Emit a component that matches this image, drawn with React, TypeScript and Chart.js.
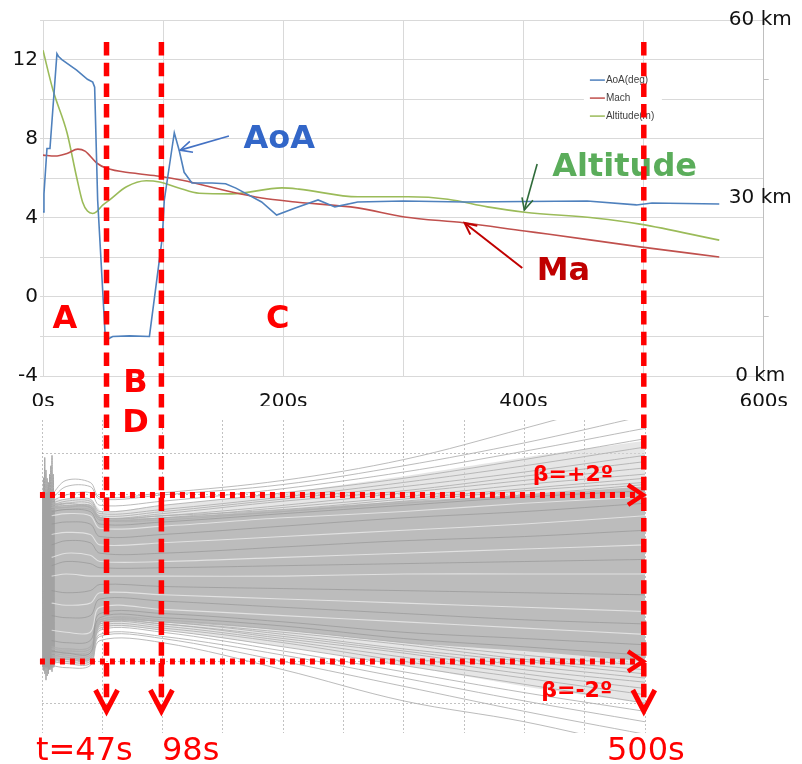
import React, { useEffect, useRef } from "react";
import { Chart, registerables } from "chart.js";

Chart.register(...registerables);

const PAGE_W = 802;
const PAGE_H = 764;
const FONT = '"DejaVu Sans", Verdana, sans-serif';
const RED = "#ff0000";

// ---------------- top chart: flight profile ----------------
const aoaTime = [0, 0.8, 3.3, 5.8, 11.6, 13, 15.7, 28, 37, 41.4, 43, 45.5, 52, 58, 72, 88.6, 99.3, 101, 109.3, 113.4, 117.5, 124, 140.7, 152, 160.6, 182, 194.5, 210, 229, 243, 262, 300, 351, 453, 494, 507, 563];
const aoaDeg = [4.3, 5.2, 7.5, 7.5, 12.3, 12.15, 12.0, 11.47, 11.0, 10.86, 10.6, 4.9, -2.2, -2.0, -1.97, -2.0, 3.0, 4.9, 8.3, 7.4, 6.3, 5.76, 5.76, 5.72, 5.5, 4.8, 4.14, 4.5, 4.9, 4.55, 4.8, 4.85, 4.8, 4.85, 4.65, 4.75, 4.7];

const machTime = [0, 10, 20, 29, 35, 44.7, 53, 74.5, 97, 116, 157, 182, 210, 262, 301, 351, 401, 420, 497, 563];
const machValue = [7.17, 7.12, 7.25, 7.47, 7.37, 6.77, 6.5, 6.26, 6.1, 5.9, 5.3, 5.0, 4.8, 4.5, 4.04, 3.74, 3.33, 3.18, 2.53, 2.02];

const altTime = [0, 8.3, 20, 28, 33, 37, 41.4, 44.7, 49.7, 55.5, 69.5, 86, 97, 113, 130, 157, 199, 213, 262, 304, 337, 370, 401, 461, 497, 563];
const altKm = [54.9, 48.2, 41.0, 33.5, 29.3, 27.8, 27.4, 27.7, 28.8, 29.7, 31.9, 32.9, 32.7, 31.7, 30.8, 30.7, 31.7, 31.5, 30.2, 30.2, 29.8, 28.5, 27.6, 26.6, 25.6, 22.9];

const seriesLabels = ["AoA(deg)", "Mach", "Altitude(m)"];
const seriesColors = ["#4F81BD", "#C0504D", "#9BBB59"];

// annotations of the top chart (time s, left-axis value)
const noteTexts = ["AoA", "Altitude", "Ma", "A", "B", "C", "D"];
const noteTime = [167, 424, 411, 18.2, 77, 195.4, 77];
const noteValue = [7.53, 6.11, 0.86, -1.57, -4.8, -1.57, -6.82];
const noteColors = ["#3266C8", "#5BAD5B", "#C00000", RED, RED, RED, RED];
const noteAlign = ["left", "left", "left", "center", "center", "center", "center"];

const arrowFrom = [[154.8, 8.13], [411.4, 6.72], [399, 1.46]];
const arrowTo = [[114.2, 7.42], [400.7, 4.39], [351, 3.74]];
const arrowColors = ["#4472C4", "#2F6B3A", "#C00000"];

const legendAt = [450.3, 11.72];

// ---------------- bottom chart: sideslip Monte Carlo ----------------
const runTime = [8, 20, 40, 48, 100, 200, 300, 400, 500];
const upperRuns = [
  [2.0, 2.35, 2.3, 1.95, 2.05, 2.35, 2.85, 3.6, 4.4],
  [1.9, 2.2, 2.2, 1.9, 2.0, 2.25, 2.7, 3.25, 3.9],
  [1.85, 2.0, 2.05, 1.75, 1.85, 2.15, 2.55, 3.05, 3.6],
  [1.8, 1.9, 1.9, 1.6, 1.75, 2.05, 2.4, 2.85, 3.35],
  [1.75, 1.85, 1.85, 1.55, 1.65, 1.95, 2.3, 2.7, 3.15],
  [1.7, 1.8, 1.8, 1.5, 1.6, 1.9, 2.2, 2.55, 2.95],
  [1.8, 1.75, 1.75, 1.45, 1.55, 1.85, 2.1, 2.45, 2.8],
  [1.7, 1.7, 1.75, 1.45, 1.5, 1.75, 2.05, 2.35, 2.65],
  [1.65, 1.7, 1.7, 1.4, 1.45, 1.7, 1.95, 2.25, 2.5],
  [1.75, 1.8, 1.7, 1.45, 1.5, 1.65, 1.9, 2.15, 2.4],
  [1.6, 1.65, 1.65, 1.4, 1.45, 1.6, 1.85, 2.1, 2.3],
  [1.7, 1.75, 1.7, 1.4, 1.4, 1.6, 1.8, 2.0, 2.25],
];
const lowerRuns = [
  [-2.1, -2.15, -2.1, -1.5, -1.55, -2.2, -2.95, -3.45, -4.1],
  [-2.0, -2.05, -2.05, -1.4, -1.45, -2.0, -2.6, -3.2, -3.75],
  [-1.95, -2.0, -2.0, -1.35, -1.4, -1.85, -2.4, -2.95, -3.45],
  [-1.9, -1.95, -1.95, -1.25, -1.3, -1.75, -2.25, -2.75, -3.2],
  [-1.85, -1.9, -1.9, -1.2, -1.25, -1.65, -2.1, -2.55, -3.0],
  [-1.8, -1.85, -1.85, -1.15, -1.2, -1.55, -2.0, -2.4, -2.8],
  [-1.9, -1.8, -1.8, -1.1, -1.15, -1.5, -1.9, -2.3, -2.65],
  [-1.75, -1.8, -1.75, -1.1, -1.1, -1.45, -1.8, -2.2, -2.5],
  [-1.7, -1.75, -1.7, -1.05, -1.1, -1.4, -1.75, -2.1, -2.4],
  [-1.8, -1.75, -1.7, -1.05, -1.05, -1.35, -1.7, -2.0, -2.3],
  [-1.7, -1.7, -1.65, -1.0, -1.05, -1.3, -1.6, -1.95, -2.2],
  [-1.65, -1.7, -1.65, -1.0, -1.0, -1.25, -1.55, -1.85, -2.1],
];
const coreRuns = [
  [1.3, 1.35, 1.3, 1.0, 1.05, 1.25, 1.45, 1.6, 1.8],
  [0.8, 0.9, 0.85, 0.6, 0.6, 0.75, 0.9, 1.0, 1.15],
  [0.3, 0.4, 0.35, 0.25, 0.25, 0.3, 0.35, 0.4, 0.45],
  [-0.3, -0.35, -0.3, -0.15, -0.2, -0.25, -0.3, -0.35, -0.4],
  [-0.9, -0.95, -0.9, -0.5, -0.55, -0.7, -0.85, -1.0, -1.1],
  [-1.5, -1.55, -1.5, -0.85, -0.85, -1.05, -1.3, -1.45, -1.6],
  [1.6, 1.65, 1.6, 1.3, 1.35, 1.55, 1.75, 1.95, 2.1],
  [-1.75, -1.8, -1.8, -0.95, -0.95, -1.15, -1.45, -1.65, -1.85],
];
const streakRuns = [
  [1.05, 1.1, 1.05, 0.8, 0.85, 1.0, 1.15, 1.3, 1.5],
  [0.05, 0.1, 0.05, 0.05, 0.05, 0.05, 0.1, 0.1, 0.1],
  [-0.6, -0.65, -0.6, -0.35, -0.4, -0.5, -0.6, -0.7, -0.8],
  [-1.25, -1.3, -1.3, -0.7, -0.75, -0.9, -1.05, -1.2, -1.35],
  [1.5, 1.55, 1.5, 1.2, 1.25, 1.45, 1.6, 1.8, 1.95],
  [0.5, 0.6, 0.55, 0.4, 0.4, 0.5, 0.6, 0.7, 0.8],
];
const spikeTime = [0.3, 1.3, 2.3, 3.3, 4.3, 5.3, 6.3, 7.3, 8.3, 9.3, 10.3];
const spikeA = [0.5, -2.2, 2.9, -2.45, 2.4, -2.3, 2.5, -2.2, 2.95, -2.1, 1.9];
const spikeB = [-0.5, 2.4, -2.3, 2.6, -2.35, 2.3, -2.2, 2.7, -2.25, 2.5, -1.9];

const blockTime = [0, 10.5];
const blockTop = [2.05, 2.05];
const blockBottom = [-2.14, -2.14];

const bandTime = [0, 10, 12, 40, 44, 50, 100, 200, 300, 400, 500];
const bandTop = [2.05, 2.05, 1.75, 1.75, 1.6, 1.45, 1.45, 1.65, 1.85, 2.0, 2.2];
const bandBottom = [-2.14, -2.14, -1.97, -1.97, -1.55, -1.05, -1.05, -1.25, -1.55, -1.75, -2.0];

const haloTime = [0, 12, 40, 50, 100, 200, 300, 400, 500];
const haloTop = [2.1, 1.9, 1.9, 1.6, 1.75, 2.05, 2.45, 2.9, 3.3];
const haloBottom = [-2.2, -2.05, -2.05, -1.2, -1.25, -1.65, -2.1, -2.6, -3.0];

const bottomGridDeg = [-3, -2, -1, 0, 1, 2, 3];
const betaLimits = [2, -2];
const betaLabels = ["β=+2º", "β=-2º"];
const betaLabelTime = [407, 414];
const betaLabelDeg = [2.33, -2.86];

const phaseMarkTime = [53.5, 99, 499];
const phaseLabels = ["t=47s", "98s", "500s"];
const phaseLabelTime = [-5, 99.5, 468.5];

const zip = (xs: number[], ys: number[]) => xs.map((x, i) => ({ x, y: ys[i] }));

function arrowHead(ctx: CanvasRenderingContext2D, fx: number, fy: number, tx: number, ty: number, len: number) {
  const a = Math.atan2(ty - fy, tx - fx);
  ctx.beginPath();
  ctx.moveTo(tx + len * Math.cos(a + Math.PI - 0.45), ty + len * Math.sin(a + Math.PI - 0.45));
  ctx.lineTo(tx, ty);
  ctx.lineTo(tx + len * Math.cos(a + Math.PI + 0.45), ty + len * Math.sin(a + Math.PI + 0.45));
  ctx.stroke();
}

const topNotes = {
  id: "topNotes",
  afterDraw(chart: any) {
    const { ctx } = chart;
    const x = chart.scales.x;
    const y = chart.scales.y;
    ctx.save();
    // legend box
    const lx = x.getPixelForValue(legendAt[0]);
    const ly = y.getPixelForValue(legendAt[1]);
    ctx.fillStyle = "#ffffff";
    ctx.fillRect(lx, ly, 78, 65);
    chart.data.datasets.forEach((ds: any, i: number) => {
      const cy = ly + 15 + i * 18;
      ctx.strokeStyle = ds.borderColor;
      ctx.lineWidth = 1.5;
      ctx.beginPath();
      ctx.moveTo(lx + 6, cy);
      ctx.lineTo(lx + 21, cy);
      ctx.stroke();
      ctx.fillStyle = "#404040";
      ctx.font = '10px "Liberation Sans", Arial, sans-serif';
      ctx.textAlign = "left";
      ctx.textBaseline = "middle";
      ctx.fillText(ds.label, lx + 22, cy);
    });
    // text notes
    ctx.textBaseline = "alphabetic";
    ctx.font = `bold 32px ${FONT}`;
    noteTexts.forEach((t, i) => {
      ctx.fillStyle = noteColors[i];
      ctx.textAlign = noteAlign[i];
      ctx.fillText(t, x.getPixelForValue(noteTime[i]), y.getPixelForValue(noteValue[i]));
    });
    // arrows
    arrowFrom.forEach((f, i) => {
      const fx = x.getPixelForValue(f[0]);
      const fy = y.getPixelForValue(f[1]);
      const tx = x.getPixelForValue(arrowTo[i][0]);
      const ty = y.getPixelForValue(arrowTo[i][1]);
      ctx.strokeStyle = arrowColors[i];
      ctx.lineWidth = i === 2 ? 2 : 1.6;
      ctx.beginPath();
      ctx.moveTo(fx, fy);
      ctx.lineTo(tx, ty);
      ctx.stroke();
      arrowHead(ctx, fx, fy, tx, ty, 13);
    });
    ctx.restore();
  },
};

const bottomNotes = {
  id: "bottomNotes",
  afterDraw(chart: any) {
    const { ctx } = chart;
    const x = chart.scales.x;
    const y = chart.scales.y;
    ctx.save();
    ctx.strokeStyle = RED;
    ctx.fillStyle = RED;
    ctx.lineCap = "butt";
    ctx.lineJoin = "miter";
    // beta limits
    betaLimits.forEach((b, i) => {
      const py = y.getPixelForValue(b);
      const x0 = x.getPixelForValue(-1.7);
      const x1 = x.getPixelForValue(500);
      ctx.setLineDash([5, 5]);
      ctx.lineWidth = 6;
      ctx.beginPath();
      ctx.moveTo(x0, py);
      ctx.lineTo(x1 - 8, py);
      ctx.stroke();
      ctx.setLineDash([]);
      ctx.lineWidth = 4.5;
      ctx.beginPath();
      ctx.moveTo(x1 - 17, py - 10);
      ctx.lineTo(x1 - 2, py);
      ctx.lineTo(x1 - 17, py + 10);
      ctx.stroke();
      ctx.font = `bold 22px ${FONT}`;
      ctx.textAlign = "left";
      ctx.textBaseline = "alphabetic";
      ctx.fillText(betaLabels[i], x.getPixelForValue(betaLabelTime[i]), y.getPixelForValue(betaLabelDeg[i]));
    });
    // phase boundaries
    phaseMarkTime.forEach((t, i) => {
      const px = x.getPixelForValue(t);
      ctx.setLineDash([13.5, 7.2]);
      ctx.lineWidth = 5.5;
      ctx.beginPath();
      ctx.moveTo(px, 42);
      ctx.lineTo(px, 708);
      ctx.stroke();
      ctx.setLineDash([]);
      ctx.lineWidth = 5;
      ctx.beginPath();
      ctx.moveTo(px - 11, 690);
      ctx.lineTo(px, 711);
      ctx.lineTo(px + 11, 690);
      ctx.stroke();
      ctx.font = `32px ${FONT}`;
      ctx.textAlign = "left";
      ctx.textBaseline = "alphabetic";
      ctx.fillText(phaseLabels[i], x.getPixelForValue(phaseLabelTime[i]), 760);
    });
    ctx.restore();
  },
};

export default function App() {
  const topRef = useRef<HTMLCanvasElement | null>(null);
  const botRef = useRef<HTMLCanvasElement | null>(null);

  useEffect(() => {
    const tickFont = { family: FONT, size: 20 };
    const topChart = new Chart(topRef.current as HTMLCanvasElement, {
      type: "line",
      data: {
        datasets: [
          { label: seriesLabels[0], data: zip(aoaTime, aoaDeg), borderColor: seriesColors[0], borderWidth: 1.6, pointRadius: 0, tension: 0, yAxisID: "y" },
          { label: seriesLabels[1], data: zip(machTime, machValue), borderColor: seriesColors[1], borderWidth: 1.6, pointRadius: 0, cubicInterpolationMode: "monotone", yAxisID: "y" },
          { label: seriesLabels[2], data: zip(altTime, altKm), borderColor: seriesColors[2], borderWidth: 1.6, pointRadius: 0, cubicInterpolationMode: "monotone", yAxisID: "y2" },
        ],
      },
      options: {
        responsive: false,
        animation: false,
        layout: { padding: { top: 20, bottom: 358, left: 0, right: 0 } },
        plugins: { legend: { display: false }, tooltip: { enabled: false } },
        scales: {
          x: {
            type: "linear", min: 0, max: 600,
            ticks: { stepSize: 100, autoSkip: false, maxRotation: 0, padding: 14, color: "#111", font: tickFont, callback: (v: any) => (Number(v) % 200 === 0 ? `${v}s` : "") },
            grid: { color: "#d9d9d9", drawTicks: false },
            border: { color: "#d9d9d9" },
            afterFit: (s: any) => { s.height = 30; },
          },
          y: {
            type: "linear", min: -4, max: 14,
            ticks: { stepSize: 2, padding: 2, color: "#111", font: tickFont, callback: (v: any) => (Number(v) % 4 === 0 && Number(v) < 14 ? String(v) : "") },
            grid: { color: "#d9d9d9", tickLength: 3 },
            border: { color: "#d9d9d9" },
            afterFit: (s: any) => { s.width = 43; },
          },
          y2: {
            type: "linear", position: "right", min: 0, max: 60,
            ticks: { stepSize: 10, mirror: true, padding: 28, crossAlign: "center", color: "#111", font: tickFont, callback: (v: any) => (Number(v) % 30 === 0 ? `${v} km` : "") },
            grid: {
              drawOnChartArea: false, tickLength: 5, color: "#bfbfbf",
              tickColor: (c: any) => (c.tick && (c.tick.value === 10 || c.tick.value === 50) ? "#bfbfbf" : "rgba(0,0,0,0)"),
            },
            border: { color: "#bfbfbf" },
            afterFit: (s: any) => { s.width = 34; s.paddingTop = 0; s.paddingBottom = 0; },
          },
        },
      } as any,
      plugins: [topNotes],
    });

    const runDs = (vals: number[], color: string, width: number) => ({
      data: zip(runTime, vals), borderColor: color, borderWidth: width, pointRadius: 0, tension: 0.35, fill: false,
    });
    const bandDs = (xs: number[], ys: number[], fill: any, bg: string) => ({
      data: zip(xs, ys), borderColor: "rgba(0,0,0,0)", borderWidth: 0, backgroundColor: bg, pointRadius: 0, tension: 0.2, fill,
    });
    const datasets: any[] = [
      ...streakRuns.map((r) => runDs(r, "rgba(255,255,255,0.55)", 1.1)),
      ...coreRuns.map((r) => runDs(r, "rgba(145,145,145,0.6)", 1)),
      ...upperRuns.map((r) => runDs(r, "rgba(175,175,175,0.85)", 1)),
      ...lowerRuns.map((r) => runDs(r, "rgba(175,175,175,0.85)", 1)),
      { data: zip(spikeTime, spikeA), borderColor: "#a2a2a2", borderWidth: 1, pointRadius: 0, tension: 0.3, fill: false },
      { data: zip(spikeTime, spikeB), borderColor: "#a2a2a2", borderWidth: 1, pointRadius: 0, tension: 0.3, fill: false },
      bandDs(blockTime, blockTop, "+1", "#a9a9a9"),
      bandDs(blockTime, blockBottom, false, "rgba(0,0,0,0)"),
      bandDs(bandTime, bandTop, "+1", "#bcbcbc"),
      bandDs(bandTime, bandBottom, false, "rgba(0,0,0,0)"),
      bandDs(haloTime, haloTop, "+1", "rgba(214,214,214,0.6)"),
      bandDs(haloTime, haloBottom, false, "rgba(0,0,0,0)"),
    ];

    const botChart = new Chart(botRef.current as HTMLCanvasElement, {
      type: "line",
      data: { datasets },
      options: {
        responsive: false,
        animation: false,
        layout: { padding: { left: 42, right: 157, top: 420, bottom: 31 } },
        plugins: { legend: { display: false }, tooltip: { enabled: false } },
        scales: {
          x: {
            type: "linear", min: 0, max: 500, z: 1,
            ticks: { display: false, stepSize: 50 },
            grid: { color: "rgba(120,120,120,0.45)", drawTicks: false },
            border: { display: false, dash: [2, 2] },
            afterFit: (s: any) => { s.height = 0; },
          },
          y: {
            type: "linear", min: -3.72, max: 3.8, z: 1,
            afterBuildTicks: (s: any) => { s.ticks = bottomGridDeg.map((v) => ({ value: v })); },
            ticks: { display: false },
            grid: { color: "rgba(120,120,120,0.45)", drawTicks: false },
            border: { display: false, dash: [2, 2] },
            afterFit: (s: any) => { s.width = 0; },
          },
        },
      } as any,
      plugins: [bottomNotes],
    });

    return () => {
      topChart.destroy();
      botChart.destroy();
    };
  }, []);

  const canvasStyle: React.CSSProperties = { position: "absolute", left: 0, top: 0, width: PAGE_W, height: PAGE_H };
  return (
    <div style={{ position: "absolute", left: 0, top: 0, width: PAGE_W, height: PAGE_H, background: "#fff" }}>
      <canvas ref={topRef} width={PAGE_W} height={PAGE_H} style={canvasStyle} />
      <canvas ref={botRef} width={PAGE_W} height={PAGE_H} style={canvasStyle} />
    </div>
  );
}
